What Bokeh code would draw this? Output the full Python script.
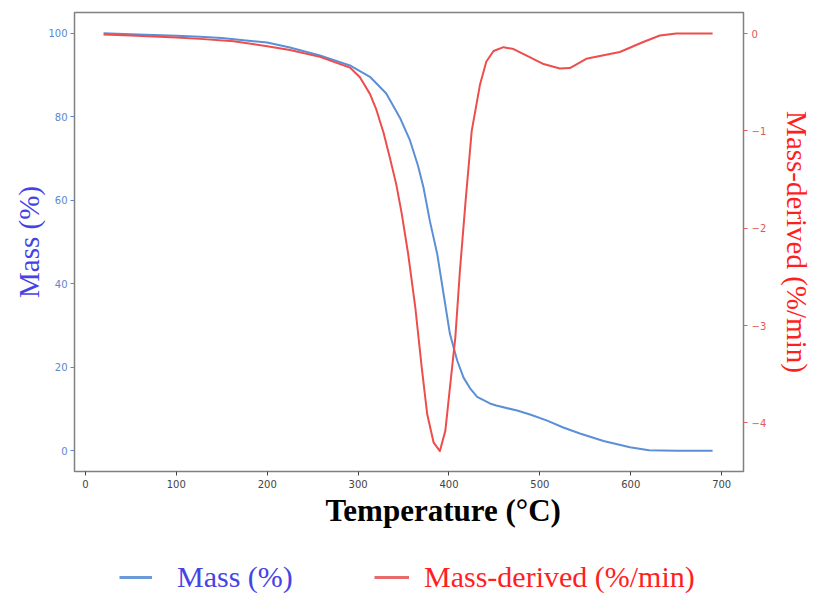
from bokeh.plotting import figure
from bokeh.models import Range1d, LinearAxis, FixedTicker, Legend, LegendItem, Title
from bokeh.layouts import column
from bokeh.embed import file_html
from bokeh.resources import INLINE

# Mass (%) vs temperature
temp_mass = [20, 50, 100, 126, 150, 200, 225, 258, 291, 313, 331, 346, 357, 366, 372, 379,
             387, 394, 401, 409, 416, 423, 431, 445, 452, 475, 490, 508, 525, 544, 570,
             599, 620, 650, 690]
mass = [100, 99.8, 99.4, 99.2, 98.9, 97.8, 96.6, 94.7, 92.3, 89.6, 85.6, 79.8, 74.4, 68.2,
        63, 55, 47.2, 37.6, 28, 21.6, 17.5, 15, 12.9, 11.3, 10.8, 9.6, 8.6, 7.2, 5.6, 4.1,
        2.3, 0.8, 0.1, 0, 0]

# Mass-derived (%/min) vs temperature
temp_deriv = [20, 50, 100, 126, 163, 200, 225, 258, 291, 302, 313, 320, 328, 335, 342, 348,
              355, 363, 370, 376, 383, 390, 396, 401, 407, 412, 418, 425, 434, 441, 449,
              460, 471, 486, 503, 522, 533, 551, 566, 588, 613, 632, 650, 690]
deriv = [-0.01, -0.02, -0.04, -0.055, -0.08, -0.13, -0.17, -0.24, -0.35, -0.45, -0.62,
         -0.78, -1.02, -1.28, -1.55, -1.85, -2.26, -2.82, -3.43, -3.91, -4.2, -4.29, -4.08,
         -3.64, -3.12, -2.44, -1.75, -1.0, -0.53, -0.29, -0.18, -0.14, -0.16, -0.23,
         -0.31, -0.36, -0.355, -0.26, -0.23, -0.19, -0.09, -0.02, 0, 0]

x_ticks = [0, 100, 200, 300, 400, 500, 600, 700]
mass_ticks = [0, 20, 40, 60, 80, 100]
deriv_ticks = [-4, -3, -2, -1, 0]
deriv_labels = {-4: "\u22124", -3: "\u22123", -2: "\u22122", -1: "\u22121", 0: "0"}

BLUE = "#5b8fd6"
RED = "#ee4d4d"
BLUE_TXT = "#4444e6"
RED_TXT = "#ff1f1f"
SERIF = "Liberation Serif"

p = figure(width=816, height=545, output_backend="svg", toolbar_location=None,
           x_range=Range1d(-12, 724), y_range=Range1d(-5, 105),
           min_border_left=74, min_border_top=12, min_border_right=72, min_border_bottom=74)
p.extra_y_ranges = {"deriv": Range1d(-4.50, 0.216)}

p.grid.visible = False
p.outline_line_color = "#808080"
p.outline_line_width = 1.5
p.background_fill_color = "white"
p.border_fill_color = "white"

# x axis (its title is placed below as a Title so it can sit right of centre)
xa = p.xaxis[0]
xa.ticker = FixedTicker(ticks=x_ticks)
xa.major_label_standoff = 4
xa.major_label_text_font = "DejaVu Sans"
xa.major_label_text_font_size = "10px"
xa.major_label_text_color = "#444444"
xa.axis_line_color = None
xa.major_tick_line_color = "#444444"
xa.major_tick_in = 0
xa.major_tick_out = 4
xa.minor_tick_line_color = None

xt = Title(text="Temperature (\u00b0C)", align="left", offset=251, standoff=0,
           text_font=SERIF, text_font_style="bold", text_font_size="31px",
           text_color="black", text_line_height=1.0)
p.add_layout(xt, "below")

# left axis
ya = p.yaxis[0]
ya.ticker = FixedTicker(ticks=mass_ticks)
ya.axis_label = "Mass (%)"
ya.axis_label_text_font = SERIF
ya.axis_label_text_font_style = "normal"
ya.axis_label_text_font_size = "29px"
ya.axis_label_text_color = BLUE_TXT
ya.axis_label_standoff = 0
ya.major_label_standoff = 3
ya.major_label_text_font = "DejaVu Sans"
ya.major_label_text_font_size = "10px"
ya.major_label_text_color = "#5b86d0"
ya.axis_line_color = None
ya.major_tick_line_color = "#5b86d0"
ya.major_tick_in = 0
ya.major_tick_out = 4
ya.minor_tick_line_color = None

# right axis
ra = LinearAxis(y_range_name="deriv", ticker=FixedTicker(ticks=deriv_ticks))
ra.major_label_overrides = deriv_labels
ra.axis_label = "Mass-derived (%/min)"
ra.axis_label_text_font = SERIF
ra.axis_label_text_font_style = "normal"
ra.axis_label_text_font_size = "29px"
ra.axis_label_text_color = RED_TXT
ra.axis_label_standoff = 12
ra.major_label_standoff = 4
ra.major_label_text_font = "DejaVu Sans"
ra.major_label_text_font_size = "10px"
ra.major_label_text_color = "#e05a5a"
ra.axis_line_color = None
ra.major_tick_line_color = "#e05a5a"
ra.major_tick_in = 0
ra.major_tick_out = 4
ra.minor_tick_line_color = None
p.add_layout(ra, "right")

p.line(temp_mass, mass, line_color=BLUE, line_width=2, line_join="round")
p.line(temp_deriv, deriv, line_color=RED, line_width=2, line_join="round",
       y_range_name="deriv")

# legend row (separate strip below the chart; its frame aligns with the chart's frame)
lg = figure(width=816, height=48, output_backend="svg", toolbar_location=None,
            x_range=Range1d(0, 1), y_range=Range1d(0, 1),
            x_axis_type=None, y_axis_type=None,
            min_border_left=74, min_border_right=72, min_border_top=0, min_border_bottom=0)
lg.grid.visible = False
lg.outline_line_color = None
# legend-key renderers kept outside the visible range
k1 = lg.line([5, 6], [5, 6], line_color="#6a9ad8", line_width=3)
k2 = lg.line([5, 6], [5, 6], line_color="#e86a6a", line_width=3)

leg1 = Legend(items=[LegendItem(label="Mass (%)", renderers=[k1])],
              location=(45, -1), orientation="horizontal",
              label_text_font=SERIF, label_text_font_size="30px",
              label_text_color=BLUE_TXT, glyph_width=33, glyph_height=28,
              label_standoff=25, padding=2, margin=0, spacing=0,
              border_line_color=None, background_fill_alpha=0)
leg2 = Legend(items=[LegendItem(label="Mass-derived (%/min)", renderers=[k2])],
              location=(300, -1), orientation="horizontal",
              label_text_font=SERIF, label_text_font_size="30px",
              label_text_color=RED_TXT, glyph_width=35, glyph_height=28,
              label_standoff=15, padding=2, margin=0, spacing=0,
              border_line_color=None, background_fill_alpha=0)
lg.add_layout(leg1, "center")
lg.add_layout(leg2, "center")

layout = column(p, lg, spacing=0)
open("out.html", "w").write(file_html(layout, INLINE))
